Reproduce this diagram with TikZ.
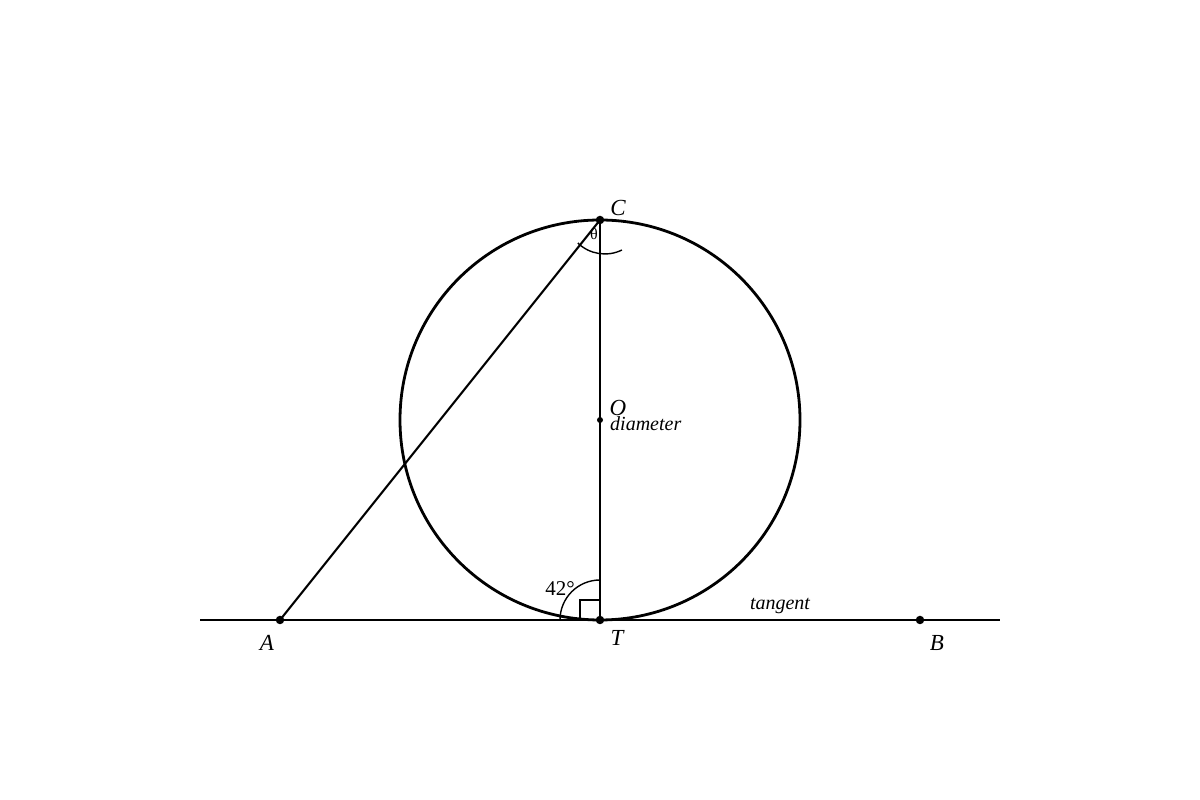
\documentclass[tikz,border=0pt]{standalone}
\usepackage{fontspec}
\setmainfont{Liberation Serif}
\begin{document}
\begin{tikzpicture}[x=1pt,y=1pt,
  thick line/.style={line width=2.8pt},
  mid line/.style={line width=2.1pt},
  thin line/.style={line width=1.4pt},
  dot/.style={circle,fill,inner sep=0pt,minimum size=8.5pt},
  smalldot/.style={circle,fill,inner sep=0pt,minimum size=6pt},
  lab/.style={font=\fontsize{23}{23}\selectfont\itshape,inner sep=0pt},
  slab/.style={font=\fontsize{20}{20}\selectfont\itshape,inner sep=0pt}]
\useasboundingbox (0,0) rectangle (1200,800);
\coordinate (O) at (600,380);
\coordinate (C) at (600,580);
\coordinate (T) at (600,180);
\coordinate (A) at (280,180);
\coordinate (B) at (920,180);
\coordinate (L) at (200,180);
\coordinate (R) at (1000,180);
\draw[thick line] (O) circle (200);
\draw[thick line] (L) -- (R);
\draw[thick line] (C) -- (T);
\draw[mid line] (A) -- (C);
% angle at C
\draw[thin line] (C) ++(226:32) arc[start angle=226,end angle=296,radius=39];
% angle at T
\draw[thin line] (T) ++(90:40) arc[start angle=90,end angle=180,radius=40];
\draw[thin line] (T) ++(0,20) -- ++(-20,0) -- ++(0,-20);
\node[dot] (dC) at (C) {};
\node[dot] (dT) at (T) {};
\node[dot] (dA) at (A) {};
\node[dot] (dB) at (B) {};
\node[smalldot] (dO) at (O) {};
\node[lab] (lC) at (618,592) {C};
\node[lab] (lO) at (618,392) {O};
\node[slab,anchor=west] (ld) at (610,376) {diameter};
\node[lab] (lT) at (617,162) {T};
\node[lab] (lA) at (267,157) {A};
\node[lab] (lB) at (937,157) {B};
\node[slab] (lt) at (780,194) {tangent};
\node[font=\fontsize{21}{21}\selectfont,inner sep=0pt] (l42) at (560,211) {42°};
\node[font=\fontsize{16}{16}\selectfont,inner sep=0pt] (lth) at (594,566) {θ};
\end{tikzpicture}
\end{document}
